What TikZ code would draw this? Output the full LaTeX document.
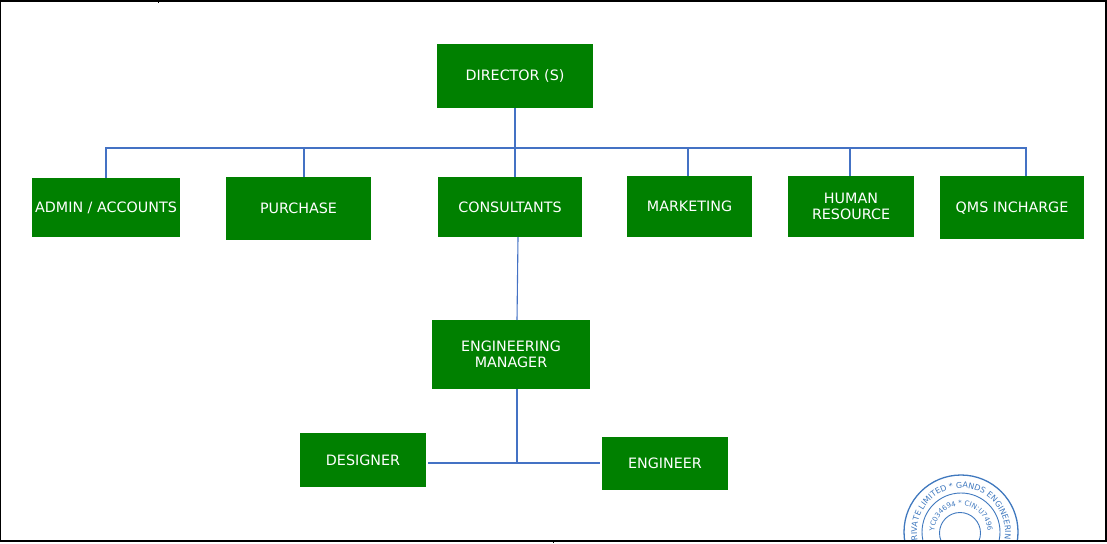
\documentclass[tikz,border=0pt]{standalone}
\usepackage{fontspec}
\usetikzlibrary{decorations.text}
\setmainfont{DejaVu Sans}
\definecolor{boxgreen}{HTML}{008000}
\definecolor{linkblue}{HTML}{4472C4}
\definecolor{stampblue}{HTML}{3F78BE}
\tikzset{
  deptbox/.style={fill=boxgreen, draw=none, text=white, align=center, inner sep=0pt, font=\fontsize{14.3pt}{15.5pt}\selectfont},
  link/.style={draw=linkblue, line width=1.1pt},
  frameline/.style={draw=black, line width=2pt}
}
\begin{document}
\begin{tikzpicture}[x=1pt,y=-1pt]
   \useasboundingbox (0,0) rectangle (1107,543);
   \node[deptbox, minimum width=156pt, minimum height=64pt] (director) at (515,76) {DIRECTOR (S)};
   \node[deptbox, minimum width=148pt, minimum height=59pt] (admin) at (106,207.5) {ADMIN / ACCOUNTS};
   \node[deptbox, minimum width=145pt, minimum height=63pt] (purchase) at (298.5,208.5) {PURCHASE};
   \node[deptbox, minimum width=144pt, minimum height=60pt] (consultants) at (510,207) {CONSULTANTS};
   \node[deptbox, minimum width=125pt, minimum height=61pt] (marketing) at (689.5,206.5) {MARKETING};
   \node[deptbox, minimum width=126pt, minimum height=61pt] (hr) at (851,206.5) {HUMAN\\RESOURCE};
   \node[deptbox, minimum width=144pt, minimum height=63pt, text depth=0pt] (qms) at (1012,207.5) {QMS INCHARGE};
   \node[deptbox, minimum width=158pt, minimum height=69pt] (manager) at (511,354.5) {ENGINEERING\\MANAGER};
   \node[deptbox, minimum width=126pt, minimum height=54pt] (designer) at (363,460) {DESIGNER};
   \node[deptbox, minimum width=126pt, minimum height=53pt] (engineer) at (665,463.5) {ENGINEER};
   % bus under the director
   \coordinate (busA) at (106,148);
   \coordinate (busB) at (304,148);
   \coordinate (busC) at (515,148);
   \coordinate (busD) at (688,148);
   \coordinate (busE) at (850,148);
   \coordinate (busF) at (1026,148);
   \coordinate (joint) at (517,463);
   \draw[link] (director.south -| busC) -- (busC);
   \draw[link] (admin.north -| busA) -- (busA) -- (busF) -- (qms.north -| busF);
   \draw[link] (busB) -- (purchase.north -| busB);
   \draw[link] (busC) -- (consultants.north -| busC);
   \draw[link] (busD) -- (marketing.north -| busD);
   \draw[link] (busE) -- (hr.north -| busE);
   \coordinate (consFoot) at (518,237);
   \coordinate (mgrTop) at (517,320);
   \draw[link] (consFoot) -- (mgrTop);
   \draw[link] (manager.south -| joint) -- (joint);
   \draw[link] ([xshift=2pt]designer.east |- joint) -- ([xshift=-2pt]engineer.west |- joint);
   % stamp
   \begin{scope}
      \clip (880,460) rectangle (1040,540);
      \draw[stampblue, line width=1.3pt] (961,532) circle (57);
      \draw[stampblue, line width=0.9pt] (961,532) circle (39);
      \draw[stampblue, line width=0.9pt] (960,533) circle (20.5);
      \path[decorate, decoration={text along path, text align=center,
            text={|\fontsize{8pt}{9pt}\selectfont\color{stampblue}|PRIVATE LIMITED * GANDS ENGINEERING}}]
         (961,532) ++(150:44) arc[start angle=150, end angle=390, radius=44];
      \path[decorate, decoration={text along path, text align=center,
            text={|\fontsize{7pt}{9pt}\selectfont\color{stampblue}|YC034694 * CIN:U7496}}]
         (961,532) ++(150:26.5) arc[start angle=150, end angle=390, radius=26.5];
   \end{scope}
   % page frame
   \draw[frameline, line width=1.4pt] (0,1) -- (1106,1);
   \draw[frameline, line width=1.4pt] (0.5,0) -- (0.5,541);
   \draw[frameline] (1106,0) -- (1106,541);
   \draw[frameline] (0,541) -- (1107,541);
   \coordinate (tickTop) at (158,0);
   \coordinate (tickBot) at (553,543);
   \draw[draw=black, line width=0.8pt] (tickTop) -- ++(0,3);
   \draw[draw=black, line width=0.8pt] (tickBot) -- ++(0,-2);
\end{tikzpicture}
\end{document}
